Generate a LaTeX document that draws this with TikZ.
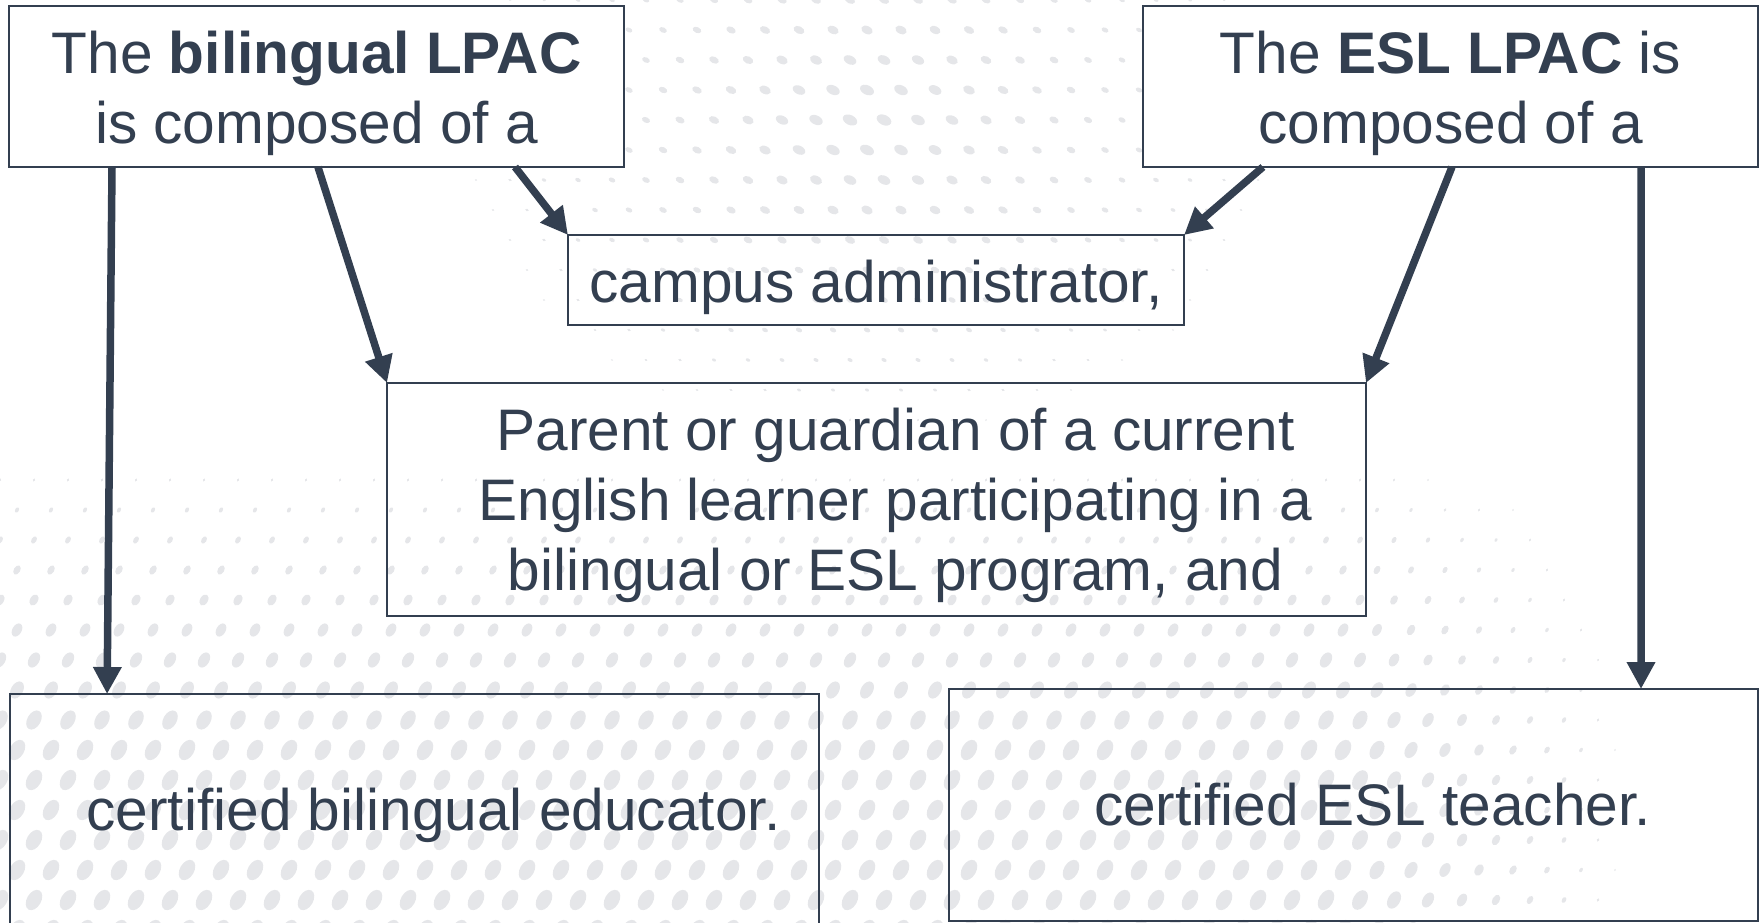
\documentclass[tikz,border=0pt]{standalone}
\usepackage{fontspec}
\setmainfont{Liberation Sans}
\usetikzlibrary{arrows.meta,calc}
\definecolor{ink}{RGB}{51,63,80}
\definecolor{dotgray}{RGB}{229,230,233}
\begin{document}
\begin{tikzpicture}[x=1pt,y=-1pt,
  box/.style={draw=ink,line width=2pt,rectangle,inner sep=0pt,outer sep=0pt,
    anchor=north west,text=ink,align=center},
  big/.style={font=\fontsize{58.6}{70}\selectfont},
  arr/.style={draw=ink,line width=7.5pt,-{Triangle[length=27pt,width=27pt]}}]
\useasboundingbox (0,0) rectangle (1762,922);
\clip (0,0) rectangle (1762,922);
% background dot texture
\foreach \j in {0,...,31}{
  \foreach \i in {0,...,52}{
    \pgfmathsetmacro\px{\i*34+mod(\j,2)*17}
    \pgfmathsetmacro\py{\j*30}
    \pgfmathsetmacro\sa{min(11,max(0,(\py-430)/28))*max(0,min(1,(1650-\px)/300))}
    \pgfmathsetmacro\sb{max(0,8*(1-veclen(\px-870,(\py-120)*1.3)/480))}
    \pgfmathsetmacro\s{max(\sa,\sb)}
    \pgfmathsetmacro\sy{0.65*\s}
    \pgfmathsetmacro\rot{ifthenelse(\py>400,60,-25)}
    \ifdim\s pt>1.2pt
      \fill[dotgray] (\px,\py) ellipse[x radius=\s pt,y radius=\sy pt,rotate=\rot];
    \fi
  }
}
% boxes
\node[box,big,fill=white,minimum width=615pt,minimum height=161pt,text height=114pt,text depth=1pt]
  (A) at (9,6) {The \textbf{bilingual LPAC}\\is composed of a};
\node[box,big,fill=white,minimum width=615pt,minimum height=161pt,text height=114pt,text depth=1pt]
  (B) at (1143,6) {The \textbf{ESL LPAC} is\\composed of a};
\node[box,big,minimum width=616pt,minimum height=90pt,text height=44pt,text depth=0pt]
  (C) at (568,235) {campus administrator,};
\node[box,big,minimum width=979pt,minimum height=233pt,text height=184pt,text depth=3pt]
  (D) at (387,383) {\hspace*{38pt}Parent or guardian of a current\\
    \hspace*{38pt}English learner participating in a\\
    \hspace*{38pt}bilingual or ESL program, and};
\node[box,big,minimum width=809pt,minimum height=232pt,text height=44pt,text depth=4pt]
  (E) at (10,694) {\hspace*{38pt}certified bilingual educator.};
\node[box,big,minimum width=809pt,minimum height=232pt,text height=44pt,text depth=4pt]
  (F) at (949,689) {\hspace*{38pt}certified ESL teacher.};
% connectors
\draw[arr] ($(A.south west)!0.1675!(A.south east)$) -- ($(E.north west)!0.12!(E.north east)$);
\draw[arr] ($(A.south west)!0.5024!(A.south east)$) -- (D.north west);
\draw[arr] ($(A.south west)!0.8228!(A.south east)$) -- (C.north west);
\draw[arr] ($(B.south west)!0.195!(B.south east)$) -- (C.north east);
\draw[arr] ($(B.south west)!0.5024!(B.south east)$) -- (D.north east);
\draw[arr] ($(B.south west)!0.8098!(B.south east)$) -- ($(F.north west)!0.8554!(F.north east)$);
\end{tikzpicture}
\end{document}
